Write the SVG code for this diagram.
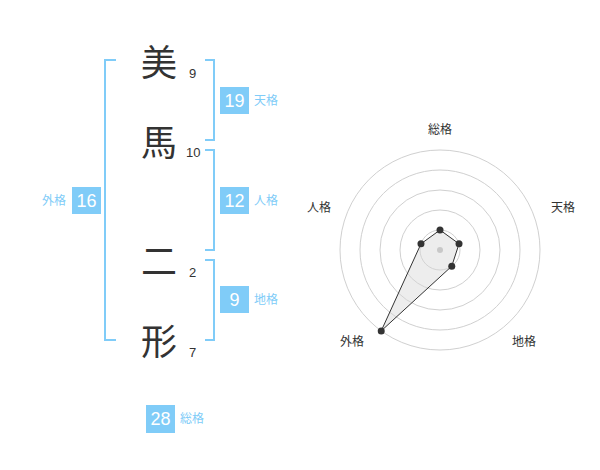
<svg xmlns="http://www.w3.org/2000/svg" width="600" height="470" viewBox="0 0 600 470">
<style>
.kanji{font-family:"Noto Sans CJK JP","Noto Sans CJK SC",sans-serif;font-size:36px;fill:#333;text-anchor:middle}
.num{font-family:"Liberation Sans",Arial,sans-serif;font-size:13px;fill:#333}
.box{fill:#80ccf8}
.bnum{font-family:"Liberation Sans",Arial,sans-serif;font-size:18px;fill:#fff;text-anchor:middle}
.blab{font-family:"Noto Sans CJK JP",sans-serif;font-size:12px;fill:#80ccf8}
.br{fill:none;stroke:#80ccf8;stroke-width:2}
.ring{fill:none;stroke:#d0d0d0;stroke-width:1}
.rlab{font-family:"Noto Sans CJK JP",sans-serif;font-size:12px;fill:#333;text-anchor:middle}
.pt{fill:#333}
</style>
<rect width="600" height="470" fill="#fff"/>
<g id="connectors">
<path class="br" d="M116,60 H105 V340 H116"/>
<path class="br" d="M205,60 H214 V140 H205"/>
<path class="br" d="M205,150 H214 V250 H205"/>
<path class="br" d="M205,260 H214 V340 H205"/>
</g>
<g id="char1"><text class="kanji" x="159" y="76">美</text><text class="num" x="189" y="78">9</text></g>
<g id="char2"><text class="kanji" x="159" y="156">馬</text><text class="num" x="186" y="157">10</text></g>
<g id="char3"><text class="kanji" x="159" y="275">二</text><text class="num" x="189" y="277">2</text></g>
<g id="char4"><text class="kanji" x="159" y="355">形</text><text class="num" x="189" y="357">7</text></g>
<g id="tenkaku"><rect class="box" x="220" y="87" width="29" height="27"/><text class="bnum" x="234.5" y="107">19</text><text class="blab" x="254" y="105">天格</text></g>
<g id="jinkaku"><rect class="box" x="220" y="187" width="29" height="27"/><text class="bnum" x="234.5" y="207">12</text><text class="blab" x="254" y="205">人格</text></g>
<g id="gaikaku"><rect class="box" x="72" y="187" width="29" height="27"/><text class="bnum" x="86.5" y="207">16</text><text class="blab" x="66" y="205" text-anchor="end">外格</text></g>
<g id="chikaku"><rect class="box" x="220" y="286" width="29" height="27"/><text class="bnum" x="234.5" y="306">9</text><text class="blab" x="254" y="304">地格</text></g>
<g id="soukaku"><rect class="box" x="146" y="405" width="29" height="28"/><text class="bnum" x="160.5" y="425">28</text><text class="blab" x="180" y="423">総格</text></g>
<g id="radar">
<circle class="ring" cx="440" cy="250" r="20"/>
<circle class="ring" cx="440" cy="250" r="40"/>
<circle class="ring" cx="440" cy="250" r="60"/>
<circle class="ring" cx="440" cy="250" r="80"/>
<circle class="ring" cx="440" cy="250" r="100"/>
<polygon points="440,230 459.02,243.82 451.76,266.18 381.22,330.9 420.98,243.82" fill="#d8d8d8" fill-opacity="0.45" stroke="#333" stroke-width="1"/>
<circle cx="440" cy="250" r="3" fill="#c8c8c8"/>
<circle class="pt" cx="440" cy="230" r="3.5"/>
<circle class="pt" cx="459.02" cy="243.82" r="3.5"/>
<circle class="pt" cx="451.76" cy="266.18" r="3.5"/>
<circle class="pt" cx="381.22" cy="330.9" r="3.5"/>
<circle class="pt" cx="420.98" cy="243.82" r="3.5"/>
<text class="rlab" x="440" y="134">総格</text>
<text class="rlab" x="563" y="212">天格</text>
<text class="rlab" x="319" y="212">人格</text>
<text class="rlab" x="352" y="346">外格</text>
<text class="rlab" x="524" y="346">地格</text>
</g>
</svg>
